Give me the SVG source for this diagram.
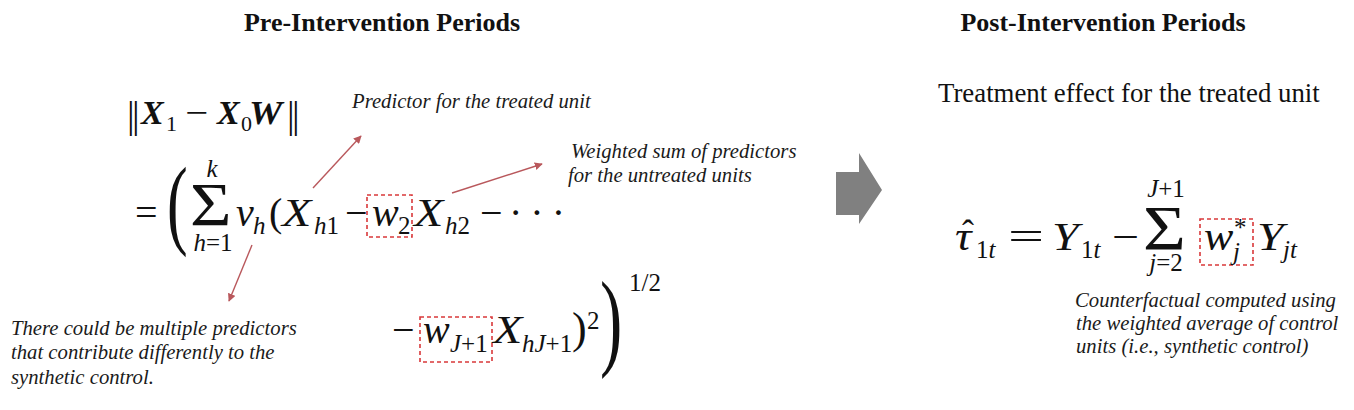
<svg xmlns="http://www.w3.org/2000/svg" width="1354" height="410" viewBox="0 0 1354 410">
<style>
text{font-family:"Liberation Serif","Times New Roman",serif;fill:#111}
.title{font-weight:bold;font-size:26px}
.note{font-style:italic;font-size:20.7px;fill:#1a1a1a}
.m{font-size:40px}
.mi{font-size:40px;font-style:italic}
.mb{font-size:34px;font-style:italic;font-weight:bold}
.s{font-size:25px}
.si{font-size:25px;font-style:italic}
.box{fill:none;stroke:#d9383a;stroke-width:1.6;stroke-dasharray:4 3}
.conn{stroke:#b9585c;stroke-width:1.4;fill:none;marker-end:url(#ah)}
</style>
<defs>
<marker id="ah" viewBox="0 0 10 10" refX="9" refY="5" markerWidth="8" markerHeight="8" orient="auto" markerUnits="userSpaceOnUse">
<path d="M0,0 L10,5 L0,10 z" fill="#b9585c"/>
</marker>
</defs>
<rect width="1354" height="410" fill="#ffffff"/>

<g id="title-pre"><text class="title" x="382" y="31" text-anchor="middle">Pre-Intervention Periods</text></g>
<g id="title-post"><text class="title" x="1103" y="31" text-anchor="middle">Post-Intervention Periods</text></g>

<g id="norm">
<text class="m" x="127" y="128" style="font-size:38px">|</text>
<text class="m" x="132" y="128" style="font-size:38px">|</text>
<text class="mb" x="141" y="124">X</text>
<text class="s" x="166" y="131" style="font-size:22px">1</text>
<text class="m" transform="translate(185,124) scale(1.2,1)" style="font-size:34px">−</text>
<text class="mb" x="217" y="124">X</text>
<text class="s" x="241" y="131" style="font-size:22px">0</text>
<text class="mb" transform="translate(249,124) scale(1.1,1)">W</text>
<text class="m" x="287" y="128" style="font-size:38px">|</text>
<text class="m" x="292" y="128" style="font-size:38px">|</text>
</g>

<g id="line-b">
<text class="m" x="135" y="226">=</text>
<text class="m" transform="translate(167,236) scale(0.62,1)" style="font-size:100px">(</text>
<text class="m" transform="translate(190,225) scale(1.15,1)" style="font-size:62px">Σ</text>
<text class="si" x="212" y="177" text-anchor="middle">k</text>
<text class="s" x="213" y="251" text-anchor="middle"><tspan font-style="italic">h</tspan>=1</text>
<text class="mi" x="236" y="226">v</text>
<text class="si" x="253" y="234">h</text>
<text class="m" x="269" y="226">(</text>
<text class="mi" transform="translate(282,226) scale(1.2,1)">X</text>
<text class="s" x="314" y="234"><tspan font-style="italic">h</tspan>1</text>
<text class="m" x="345" y="226">−</text>
<text class="mi" x="372" y="226">w</text>
<text class="s" x="398" y="234">2</text>
<text class="mi" transform="translate(414,226) scale(1.2,1)">X</text>
<text class="s" x="445" y="234"><tspan font-style="italic">h</tspan>2</text>
<text class="m" x="480" y="226">−</text>
<text class="m" x="509" y="226" letter-spacing="8">···</text>
</g>

<g id="line-c">
<text class="m" x="392" y="343">−</text>
<text class="mi" x="423" y="343">w</text>
<text class="s" x="450" y="352"><tspan font-style="italic">J</tspan>+1</text>
<text class="mi" transform="translate(493,343) scale(1.2,1)">X</text>
<text class="s" x="522" y="352"><tspan font-style="italic">hJ</tspan>+1</text>
<text class="m" x="572" y="343" style="font-size:44px">)</text>
<text class="s" x="587" y="329">2</text>
<text class="m" transform="translate(600,356) scale(0.62,1)" style="font-size:108px">)</text>
<text class="s" x="629" y="291">1/2</text>
</g>

<g id="weight-boxes">
<rect class="box" x="367" y="195" width="45" height="42"/>
<rect class="box" x="420" y="317" width="72" height="45"/>
<rect class="box" x="1200" y="219" width="53" height="46"/>
</g>

<g id="treat-label"><text x="938" y="102" style="font-size:26.8px">Treatment effect for the treated unit</text></g>

<g id="effect-formula">
<text class="mi" transform="translate(955,250) scale(1.15,1)">τ</text>
<text class="m" x="962" y="245" style="font-size:36px">ˆ</text>
<text class="s" x="976" y="258">1<tspan font-style="italic">t</tspan></text>
<text class="m" transform="translate(1008,250) scale(1.6,1)">=</text>
<text class="mi" transform="translate(1052,250) scale(1.2,1)">Y</text>
<text class="s" x="1081" y="258">1<tspan font-style="italic">t</tspan></text>
<text class="m" transform="translate(1112,250) scale(1.2,1)">−</text>
<text class="m" transform="translate(1143,250) scale(1.15,1)" style="font-size:64px">Σ</text>
<text class="s" x="1166" y="197" text-anchor="middle"><tspan font-style="italic">J</tspan>+1</text>
<text class="s" x="1166" y="271" text-anchor="middle"><tspan font-style="italic">j</tspan>=2</text>
<text class="mi" transform="translate(1204,250) scale(1.1,1)">w</text>
<text class="s" x="1234" y="236">*</text>
<text class="si" x="1233" y="260">j</text>
<text class="mi" transform="translate(1257,250) scale(1.2,1)">Y</text>
<text class="si" x="1283" y="258">jt</text>
</g>

<g id="note-treated"><text class="note" x="352" y="108">Predictor for the treated unit</text></g>
<g id="note-untreated">
<text class="note" x="571" y="158">Weighted sum of predictors</text>
<text class="note" x="568" y="182">for the untreated units</text>
</g>
<g id="note-predictors">
<text class="note" x="11" y="335">There could be multiple predictors</text>
<text class="note" x="11" y="359">that contribute differently to the</text>
<text class="note" x="11" y="384">synthetic control.</text>
</g>
<g id="note-counterfactual">
<text class="note" x="1075" y="307">Counterfactual computed using</text>
<text class="note" x="1076" y="330">the weighted average of control</text>
<text class="note" x="1076" y="353">units (i.e., synthetic control)</text>
</g>

<g id="phase-arrow">
<polygon points="836,172 859,172 859,153 882,190 859,224 859,215 836,215" fill="#808080"/>
</g>

<g id="connectors">
<line class="conn" x1="313" y1="188" x2="361" y2="136"/>
<line class="conn" x1="452" y1="193" x2="542" y2="164"/>
<line class="conn" x1="252" y1="245" x2="229" y2="301"/>
</g>
</svg>
